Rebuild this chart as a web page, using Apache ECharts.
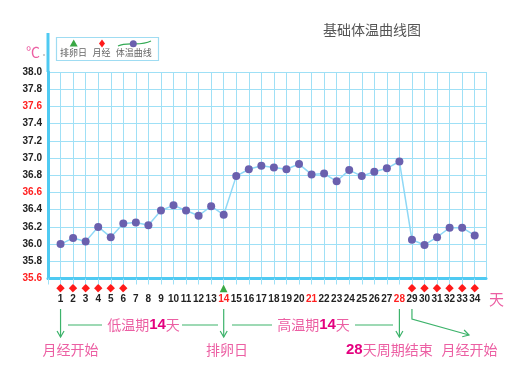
<!DOCTYPE html>
<html><head><meta charset="utf-8">
<script src="https://cdn.jsdelivr.net/npm/echarts@6/dist/echarts.min.js"></script>
<style>html,body{margin:0;padding:0;background:#fff}#c{width:530px;height:375px}</style>
</head><body><div id="c"></div>
<script>
const days = [1,2,3,4,5,6,7,8,9,10,11,12,13,14,15,16,17,18,19,20,21,22,23,24,25,26,27,28,29,30,31,32,33,34];
const temps = [36.00,36.07,36.03,36.20,36.08,36.24,36.25,36.22,36.39,36.45,36.39,36.33,36.44,36.34,
  36.79,36.87,36.91,36.89,36.87,36.93,36.81,36.82,36.73,36.86,36.79,36.84,36.88,36.96,
  36.05,35.99,36.08,36.19,36.19,36.10];
const mensesDays = [1,2,3,4,5,6,29,30,31,32,33,34];
const ovulationDay = 14;
const redDayLabels = [14,21,28];
const redTempLabels = ['37.6','36.6','35.6'];
const yMin = 35.6, yMax = 38.0, yStep = 0.2;

const chart = echarts.init(document.getElementById('c'), null, {renderer:'canvas'});
const GRID_C = '#9fe0f6';
const AXIS_C = '#4fcaf2';
const GREEN = '#3db36b';
const PINK = '#ec5fa3';
const MAG = '#e4007f';
const NUMF = '"Liberation Sans", Arial, sans-serif';
const CJK = '"Noto Sans CJK SC", sans-serif';

chart.setOption({
  animation:false,
  title:{text:'基础体温曲线图', left:318, top:18,
    textStyle:{fontSize:14, fontWeight:'normal', color:'#555', fontFamily:CJK}},
  grid:{left:48, right:44, top:72, bottom:96.5, containLabel:false},
  xAxis:{type:'value', min:0, max:34.9, interval:1,
    name:'天', nameLocation:'end', nameGap:3,
    nameTextStyle:{color:PINK, fontSize:15, fontFamily:CJK, align:'left', verticalAlign:'top', padding:[13,0,0,0]},
    axisLine:{show:true, onZero:false, lineStyle:{color:AXIS_C, width:3}},
    axisTick:{show:true, length:6, lineStyle:{color:GRID_C, width:1}},
    splitLine:{show:true, lineStyle:{color:GRID_C, width:1}},
    axisLabel:{margin:4, interval:0, showMinLabel:true, showMaxLabel:false,
      formatter:function(v){
        if(v<1||v>34||v!==Math.round(v)) return '';
        let top = mensesDays.includes(v) ? '{d|◆}' : (v===ovulationDay ? '{t|▲}' : '{e| }');
        let num = redDayLabels.includes(v) ? '{r|'+v+'}' : '{n|'+v+'}';
        return top+'\n'+num;
      },
      rich:{
        d:{color:'#ff1a1a', fontSize:11, lineHeight:11, fontFamily:'DejaVu Sans'},
        t:{color:'#3aa845', fontSize:10, lineHeight:11, fontFamily:'DejaVu Sans'},
        e:{fontSize:9, lineHeight:11},
        n:{color:'#222', fontSize:10, fontWeight:'bold', lineHeight:12, fontFamily:NUMF},
        r:{color:'#ff2020', fontSize:10, fontWeight:'bold', lineHeight:12, fontFamily:NUMF}
      }
    }
  },
  yAxis:{type:'value', min:yMin, max:yMax, interval:yStep,
    name:'℃', nameLocation:'end', nameGap:13,
    nameTextStyle:{color:PINK, fontSize:14, fontFamily:CJK, align:'right', padding:[0,8,0,0]},
    axisLine:{show:true, lineStyle:{color:AXIS_C, width:3}},
    axisTick:{show:false},
    splitLine:{show:true, lineStyle:{color:GRID_C, width:1.2}},
    axisLabel:{margin:6, fontSize:10, fontWeight:'bold', fontFamily:NUMF,
      formatter:function(v){return v.toFixed(1);},
      color:function(v){ return redTempLabels.includes(Number(v).toFixed(1)) ? '#ff2020' : '#222'; }
    }
  },
  series:[{
    name:'体温曲线', type:'line', data:days.map((d,i)=>[d,temps[i]]),
    symbol:'circle', symbolSize:8,
    lineStyle:{color:'#8fd8f6', width:1.5},
    itemStyle:{color:'#6a60ae'}
  }]
});

function px(day){ return chart.convertToPixel({gridIndex:0},[day, yMin])[0]; }
const x1 = px(1), x14 = px(14), x28 = px(28), x29 = px(29);
const yA0 = 309, yA1 = 337;
function arrowHead(x, y, dx, dy){
  const len = Math.hypot(dx,dy); const ux = dx/len, uy = dy/len;
  const a = Math.PI/6, L = 7;
  const bx = -ux, by = -uy;
  const p1 = [x + L*(bx*Math.cos(a) - by*Math.sin(a)), y + L*(bx*Math.sin(a) + by*Math.cos(a))];
  const p2 = [x + L*(bx*Math.cos(-a) - by*Math.sin(-a)), y + L*(bx*Math.sin(-a) + by*Math.cos(-a))];
  return {type:'polyline', shape:{points:[p1,[x,y],p2]}, style:{stroke:GREEN, lineWidth:1.2, fill:null}};
}
function vArrow(x){
  return [
    {type:'line', shape:{x1:x, y1:yA0, x2:x, y2:yA1}, style:{stroke:GREEN, lineWidth:1.2}},
    arrowHead(x, yA1, 0, 1)
  ];
}
function hLine(xa, xb, y){ return {type:'line', shape:{x1:xa, y1:y, x2:xb, y2:y}, style:{stroke:GREEN, lineWidth:1.2}}; }
const richP = {
  p:{fill:PINK, fontSize:14, fontFamily:CJK},
  b:{fill:MAG, fontSize:15, fontWeight:'bold', fontFamily:NUMF}
};
function rtext(x, y, text, align){
  return {type:'text', x:x, y:y, style:{text:text, rich:richP, textAlign:align||'center', textVerticalAlign:'middle', fill:PINK, fontSize:14, fontFamily:CJK}};
}
const elbowY = 319, endX = 469, endY = 335;
const els = [
  {type:'line', shape:{x1:48, y1:33, x2:48, y2:72}, style:{stroke:AXIS_C, lineWidth:3}},
  {type:'line', shape:{x1:43, y1:55, x2:45, y2:55}, style:{stroke:'#999', lineWidth:1}},
  {type:'rect', shape:{x:56.5, y:37.5, width:102, height:23}, style:{stroke:'#9fdcf2', lineWidth:1.2, fill:'#fff'}},
  {type:'polygon', shape:{points:[[73.7,39.5],[77.7,46.5],[69.7,46.5]]}, style:{fill:'#3aa845'}},
  {type:'polygon', shape:{points:[[102,39.5],[105,43.5],[102,47.5],[99,43.5]]}, style:{fill:'#ff1a1a'}},
  {type:'bezierCurve', shape:{x1:118, y1:46, cpx1:128, cpy1:41, cpx2:139, cpy2:47, x2:151, y2:41}, style:{stroke:'#33aa55', lineWidth:1.2, fill:null}},
  {type:'circle', shape:{cx:133.3, cy:43.8, r:3.5}, style:{fill:'#6a60ae'}},
  {type:'text', x:73.5, y:53, style:{text:'排卵日', fill:'#666', fontSize:9, fontFamily:CJK, textAlign:'center', textVerticalAlign:'middle'}},
  {type:'text', x:101.5, y:53, style:{text:'月经', fill:'#666', fontSize:9, fontFamily:CJK, textAlign:'center', textVerticalAlign:'middle'}},
  {type:'text', x:133.7, y:53, style:{text:'体温曲线', fill:'#666', fontSize:9, fontFamily:CJK, textAlign:'center', textVerticalAlign:'middle'}},
  ...vArrow(x1), ...vArrow(x14), ...vArrow(x28),
  {type:'polyline', shape:{points:[[x29,yA0],[x29,elbowY],[endX,endY]]}, style:{stroke:GREEN, lineWidth:1.2, fill:null}},
  arrowHead(endX, endY, endX-x29, endY-elbowY),
  hLine(68, 102, 325), hLine(182, 218, 325),
  hLine(232, 272, 325), hLine(355, 393, 325),
  rtext(143.5, 325, '{p|低温期}{b|14}{p|天}'),
  rtext(313.5, 325, '{p|高温期}{b|14}{p|天}'),
  rtext(70.5, 350, '{p|月经开始}'),
  rtext(227, 350, '{p|排卵日}'),
  rtext(346, 350, '{b|28}{p|天周期结束}', 'left'),
  rtext(469.5, 350, '{p|月经开始}')
];
chart.setOption({graphic:{elements:els}});
</script></body></html>
